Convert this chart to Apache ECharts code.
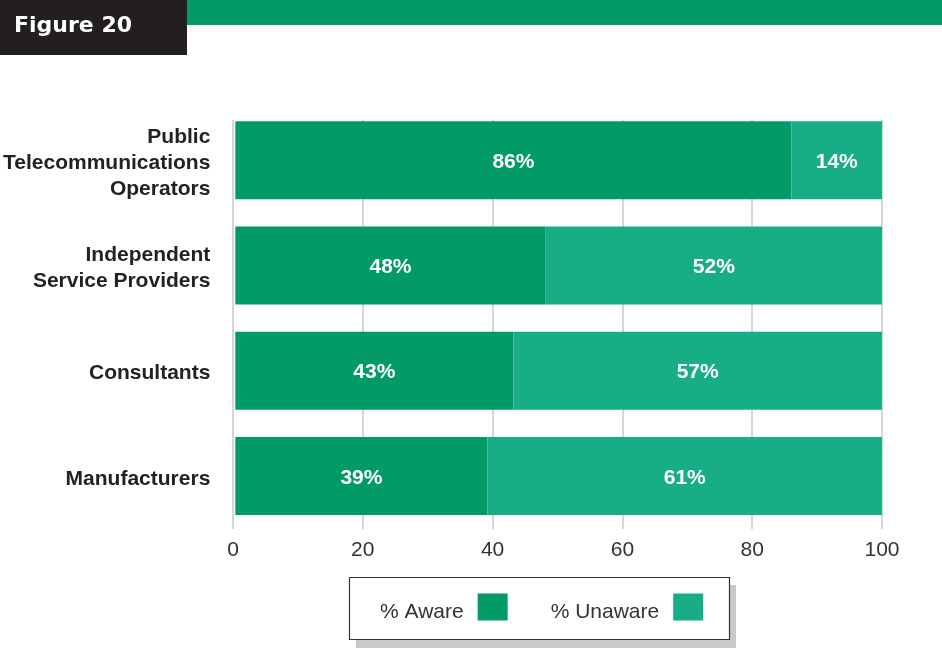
<!DOCTYPE html>
<html>
<head>
<meta charset="utf-8">
<title>Figure 20</title>
<script src="https://cdn.jsdelivr.net/npm/echarts@6/dist/echarts.min.js"></script>
<style>
  html, body { margin: 0; padding: 0; background: #fff; }
  #chart { width: 942px; height: 649px; }
</style>
</head>
<body>
<div id="chart"></div>
<script>
// Respondent groups, top to bottom
const categories = [
  'Public\nTelecommunications\nOperators',
  'Independent\nService Providers',
  'Consultants',
  'Manufacturers'
];
// Share of each group (%)
const aware = [86, 48, 43, 39];
const unaware = [14, 52, 57, 61];
const seriesNames = ['% Aware', '% Unaware'];
const xMin = 0;
const xMax = 100;
const xStep = 20;

const AWARE_COLOR = '#029a67';
const UNAWARE_COLOR = '#17ad87';
const FONT = '"Liberation Sans", Arial, Helvetica, sans-serif';

const chart = echarts.init(document.getElementById('chart'), null, { renderer: 'canvas' });

const barLabel = {
  show: true,
  position: 'inside',
  offset: [0, 2],
  formatter: '{c}%',
  color: '#ffffff',
  fontFamily: FONT,
  fontWeight: 'bold',
  fontSize: 21
};

chart.setOption({
  backgroundColor: '#ffffff',
  animation: false,
  graphic: [
    // page header band and figure tab
    { type: 'rect', shape: { x: 187, y: 0, width: 755, height: 25 }, style: { fill: '#019966' } },
    { type: 'rect', shape: { x: 0, y: 0, width: 187, height: 55 }, style: { fill: '#231f20' } },
    {
      type: 'text', x: 14, y: 26,
      style: {
        text: 'Figure 20', fill: '#ffffff', verticalAlign: 'middle',
        font: 'bold 22px "DejaVu Sans", sans-serif'
      }
    },
    // legend frame with its drop shadow
    { type: 'rect', z: 1, shape: { x: 356, y: 585, width: 380, height: 63 }, style: { fill: '#c8c9cb' } },
    {
      type: 'rect', z: 2, shape: { x: 349.5, y: 577.5, width: 380, height: 62 },
      style: { fill: '#ffffff', stroke: '#333333', lineWidth: 1.2 }
    }
  ],
  legend: {
    data: seriesNames,
    left: 380,
    top: 592,
    align: 'right',
    orient: 'horizontal',
    padding: 0,
    itemGap: 43,
    itemWidth: 30,
    itemHeight: 27,
    z: 10,
    selectedMode: false,
    icon: 'rect',
    // a short blank first line drops the name a little below the swatch centre
    formatter: name => '{s| }\n{t|' + name + '}',
    textStyle: {
      color: '#333333',
      fontFamily: FONT,
      fontSize: 21,
      padding: [0, 9, 0, 0],
      rich: {
        s: { fontSize: 8, lineHeight: 10 },
        t: { color: '#333333', fontFamily: FONT, fontSize: 21, lineHeight: 22 }
      }
    }
  },
  grid: [
    { left: 233, right: 60, top: 107.5, bottom: 120.5 },
    { left: 233, right: 60, top: 120, bottom: 120 }
  ],
  xAxis: [
    {
      type: 'value', gridIndex: 0, min: xMin, max: xMax, interval: xStep,
      axisLine: { show: false }, axisTick: { show: false },
      axisLabel: { show: false }, splitLine: { show: false }
    },
    {
      type: 'value', gridIndex: 1, min: xMin, max: xMax, interval: xStep,
      axisLine: { show: false }, axisTick: { show: false },
      axisLabel: {
        color: '#333333', fontFamily: FONT, fontSize: 21, margin: 11
      },
      splitLine: { show: true, lineStyle: { color: '#c8c8c8', width: 1.5 } }
    }
  ],
  yAxis: [
    {
      type: 'category', gridIndex: 0, data: categories, inverse: true,
      axisLine: { show: false }, axisTick: { show: false },
      axisLabel: {
        margin: 25, color: '#222222', fontFamily: FONT, fontWeight: 'bold',
        fontSize: 21, lineHeight: 26, align: 'right',
        formatter: v => '{s| }\n' + v,
        rich: { s: { fontSize: 4, lineHeight: 6 } }
      }
    },
    {
      type: 'value', gridIndex: 1, show: false,
      axisLine: { show: false }, splitLine: { show: false }
    }
  ],
  series: [
    {
      name: seriesNames[0], type: 'bar', stack: 'total',
      xAxisIndex: 0, yAxisIndex: 0, barWidth: 78,
      itemStyle: { color: AWARE_COLOR }, label: barLabel, data: aware
    },
    {
      name: seriesNames[1], type: 'bar', stack: 'total',
      xAxisIndex: 0, yAxisIndex: 0, barWidth: 78,
      itemStyle: { color: UNAWARE_COLOR }, label: barLabel, data: unaware
    }
  ]
});
</script>
</body>
</html>
